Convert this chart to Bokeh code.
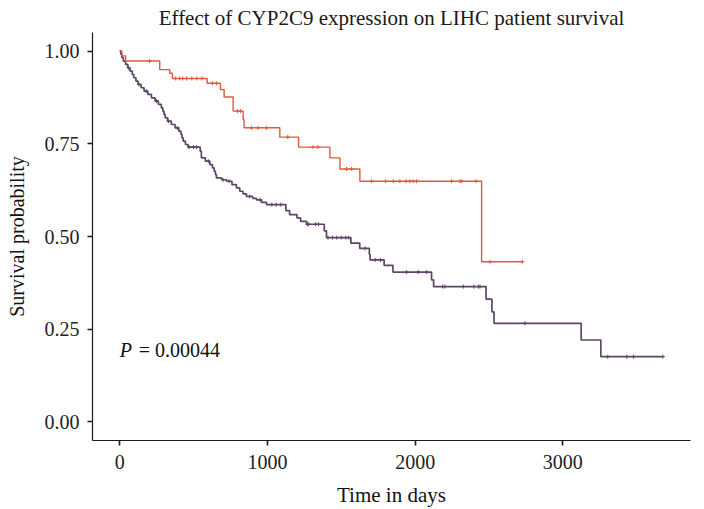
import numpy as np
from bokeh.plotting import figure
from bokeh.models import FixedTicker, Label, Range1d
from bokeh.embed import file_html
from bokeh.resources import INLINE

# ---- data ----
title_text = "Effect of CYP2C9 expression on LIHC patient survival"
x_label = "Time in days"
y_label = "Survival probability"
p_value_text = "0.00044"

x_ticks = [0, 1000, 2000, 3000]
y_ticks = [0.0, 0.25, 0.5, 0.75, 1.0]
y_tick_labels = ["0.00", "0.25", "0.50", "0.75", "1.00"]

# high-expression group (orange)
hi_time = [0, 15, 40, 271, 339, 357, 592, 682, 707, 768, 836, 842, 1084, 1211,
           1423, 1491, 1626, 2450, 2726]
hi_surv = [1.0, 0.987, 0.973, 0.950, 0.940, 0.926, 0.913, 0.896, 0.876, 0.838,
           0.815, 0.793, 0.768, 0.741, 0.712, 0.682, 0.649, 0.432, 0.432]
hi_censor = [203, 379, 406, 427, 454, 488, 522, 556, 628, 655, 797, 818, 892, 937,
             994, 1138, 1308, 1342, 1536, 1570, 1705, 1800, 1852, 1897, 1938, 1965,
             1987, 2010, 2247, 2304, 2315, 2412, 2507, 2726]

# low-expression group (purple)
lo_time = [0, 8, 15, 25, 40, 55, 70, 85, 95, 110, 125, 145, 165, 190, 215, 240,
           262, 282, 292, 300, 308, 325, 350, 375, 400, 415, 422, 430, 445, 463,
           545, 553, 580, 610, 628, 640, 648, 655, 690, 723, 760, 790, 813, 835,
           858, 900, 926, 960, 994, 1125, 1150, 1200, 1225, 1265, 1385, 1400,
           1565, 1625, 1690, 1695, 1790, 1850, 2111, 2125, 2480, 2520, 2534,
           3124, 3257, 3677]
lo_surv = [1.0, 0.991, 0.982, 0.973, 0.964, 0.955, 0.946, 0.937, 0.928, 0.919,
           0.910, 0.901, 0.892, 0.883, 0.874, 0.865, 0.856, 0.847, 0.838, 0.829,
           0.820, 0.811, 0.802, 0.793, 0.784, 0.775, 0.766, 0.757, 0.748, 0.741,
           0.730, 0.712, 0.703, 0.694, 0.685, 0.676, 0.667, 0.658, 0.653, 0.649,
           0.640, 0.631, 0.622, 0.615, 0.608, 0.603, 0.599, 0.592, 0.586, 0.570,
           0.559, 0.550, 0.541, 0.533, 0.515, 0.497, 0.482, 0.468, 0.452, 0.437,
           0.422, 0.404, 0.383, 0.365, 0.331, 0.297, 0.266, 0.221, 0.176, 0.176]
lo_censor = [60, 130, 180, 250, 330, 390, 470, 500, 520, 600, 700, 740, 880, 950,
             1030, 1060, 1090, 1270, 1280, 1325, 1345, 1410, 1440, 1470, 1500,
             1530, 1550, 1660, 1730, 1765, 1943, 2021, 2078, 2186, 2202, 2326,
             2398, 2428, 2439, 2744, 3304, 3433, 3478, 3677]

hi_color = "#E2583B"
lo_color = "#5E4666"
FONT = "Liberation Serif"


def surv_at(times, surv, t):
    idx = np.searchsorted(np.asarray(times), np.asarray(t), side="right") - 1
    return np.asarray(surv)[idx]


p = figure(width=704, height=509, output_backend="svg", toolbar_location=None,
           x_range=Range1d(-184, 3864), y_range=Range1d(-0.05, 1.05),
           min_border_left=92, min_border_right=14, min_border_top=31,
           min_border_bottom=69)

p.title.text = title_text
p.title.align = "center"
p.title.text_font = FONT
p.title.text_font_size = "21px"
p.title.text_font_style = "normal"
p.title.text_color = "#1a1a1a"
p.title.offset = 16
p.title.standoff = 6

p.outline_line_color = None
p.grid.grid_line_color = None
p.background_fill_color = "white"
p.border_fill_color = "white"

for ax in (p.xaxis, p.yaxis):
    ax.axis_line_color = "#1a1a1a"
    ax.axis_line_width = 1.2
    ax.major_tick_line_color = "#1a1a1a"
    ax.major_tick_line_width = 1.6
    ax.major_tick_out = 5
    ax.major_tick_in = 0
    ax.minor_tick_line_color = None
    ax.major_label_text_font = FONT
    ax.major_label_text_font_size = "20px"
    ax.major_label_text_color = "#222222"
    ax.axis_label_text_font = FONT
    ax.axis_label_text_font_style = "normal"
    ax.axis_label_text_color = "#111111"

p.xaxis.axis_label_text_font_size = "21px"
p.yaxis.axis_label_text_font_size = "20px"
p.xaxis.ticker = FixedTicker(ticks=x_ticks)
p.yaxis.ticker = FixedTicker(ticks=y_ticks)
p.yaxis.major_label_overrides = {t: l for t, l in zip(y_ticks, y_tick_labels)}
p.xaxis.axis_label = x_label
p.yaxis.axis_label = y_label
p.xaxis.major_label_standoff = 9
p.yaxis.major_label_standoff = 8
p.xaxis.axis_label_standoff = 11
p.yaxis.axis_label_standoff = 14

p.step(lo_time, lo_surv, mode="after", line_color=lo_color, line_width=1.7)
p.step(hi_time, hi_surv, mode="after", line_color=hi_color, line_width=1.4)

p.scatter(lo_censor, surv_at(lo_time, lo_surv, lo_censor), marker="cross",
          size=4, line_color=lo_color, line_width=1)
p.scatter(hi_censor, surv_at(hi_time, hi_surv, hi_censor), marker="cross",
          size=4, line_color=hi_color, line_width=1)

p.add_layout(Label(x=0, y=0.195, text="P", text_font=FONT, text_font_size="20px",
                   text_font_style="italic", text_baseline="middle",
                   text_color="#111111"))
p.add_layout(Label(x=0, y=0.195, x_offset=19, text="= " + p_value_text,
                   text_font=FONT, text_font_size="20px", text_baseline="middle",
                   text_color="#111111"))

open("out.html", "w").write(file_html(p, INLINE))
